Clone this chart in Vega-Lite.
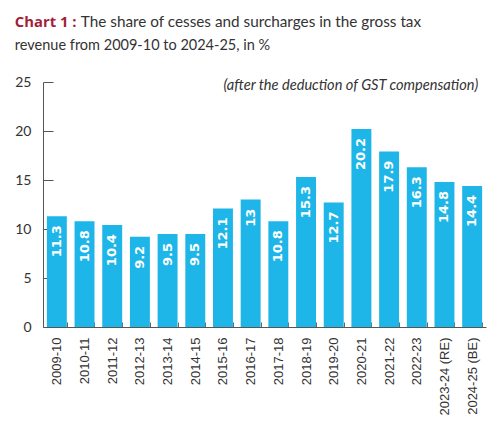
{
  "$schema": "https://vega.github.io/schema/vega-lite/v6.json",
  "width": 443,
  "height": 245,
  "autosize": {"type": "none"},
  "padding": {"left": 43, "top": 82, "right": 14, "bottom": 99},
  "background": "white",
  "config": {"view": {"stroke": null}},
  "data": {
    "values": [
      {"year": "2009-10", "share": 11.3, "label": "11.3"},
      {"year": "2010-11", "share": 10.8, "label": "10.8"},
      {"year": "2011-12", "share": 10.4, "label": "10.4"},
      {"year": "2012-13", "share": 9.2, "label": "9.2"},
      {"year": "2013-14", "share": 9.5, "label": "9.5"},
      {"year": "2014-15", "share": 9.5, "label": "9.5"},
      {"year": "2015-16", "share": 12.1, "label": "12.1"},
      {"year": "2016-17", "share": 13, "label": "13"},
      {"year": "2017-18", "share": 10.8, "label": "10.8"},
      {"year": "2018-19", "share": 15.3, "label": "15.3"},
      {"year": "2019-20", "share": 12.7, "label": "12.7"},
      {"year": "2020-21", "share": 20.2, "label": "20.2"},
      {"year": "2021-22", "share": 17.9, "label": "17.9"},
      {"year": "2022-23", "share": 16.3, "label": "16.3"},
      {"year": "2023-24 (RE)", "share": 14.8, "label": "14.8"},
      {"year": "2024-25 (BE)", "share": 14.4, "label": "14.4"}
    ]
  },
  "layer": [
    {
      "mark": {"type": "bar", "color": "#1eb5e8"},
      "encoding": {
        "x": {
          "field": "year",
          "type": "nominal",
          "sort": null,
          "scale": {"paddingInner": 0.28, "paddingOuter": 0.14},
          "axis": {
            "title": null,
            "labelAngle": -90,
            "labelAlign": "right",
            "labelBaseline": "middle",
            "labelFont": "Liberation Sans",
            "labelFontSize": 13,
            "labelColor": "#333333",
            "labelPadding": 15,
            "tickBand": "extent",
            "tickSize": -5,
            "tickColor": "#666666",
            "domainColor": "#555555"
          }
        },
        "y": {
          "field": "share",
          "type": "quantitative",
          "scale": {"domain": [0, 25], "nice": false},
          "axis": {
            "title": null,
            "values": [0, 5, 10, 15, 20, 25],
            "grid": false,
            "tickSize": -10,
            "tickColor": "#555555",
            "domainColor": "#555555",
            "labelFont": "Lato",
            "labelFontSize": 14,
            "labelColor": "#333333",
            "labelPadding": 22
          }
        }
      }
    },
    {
      "mark": {"type": "text", "angle": -90, "align": "right", "baseline": "middle", "dx": -9, "font": "DejaVu Sans", "fontWeight": "bold", "fontSize": 13, "color": "white"},
      "encoding": {
        "x": {"field": "year", "type": "nominal", "sort": null},
        "y": {"field": "share", "type": "quantitative"},
        "text": {"field": "label"}
      }
    },
    {
      "data": {"values": [{"note": "(after the deduction of GST compensation)"}]},
      "mark": {"type": "text", "align": "right", "baseline": "middle", "dx": 6, "dy": 4, "font": "Lato", "fontStyle": "italic", "fontSize": 14.6, "color": "#333333"},
      "encoding": {
        "x": {"datum": "2024-25 (BE)"},
        "y": {"datum": 25},
        "text": {"field": "note"}
      }
    },
    {
      "data": {"values": [{"note": "Chart 1 :"}]},
      "mark": {"type": "text", "align": "left", "baseline": "alphabetic", "dx": -42, "dy": -55, "font": "Open Sans", "fontWeight": "bold", "fontSize": 14.8, "color": "#a31f3a"},
      "encoding": {
        "x": {"datum": "2009-10"},
        "y": {"datum": 25},
        "text": {"field": "note"}
      }
    },
    {
      "data": {"values": [{"note": "The share of cesses and surcharges in the gross tax"}]},
      "mark": {"type": "text", "align": "left", "baseline": "alphabetic", "dx": 24, "dy": -55, "font": "Lato", "fontSize": 15.3, "color": "#333333"},
      "encoding": {
        "x": {"datum": "2009-10"},
        "y": {"datum": 25},
        "text": {"field": "note"}
      }
    },
    {
      "data": {"values": [{"note": "revenue from 2009-10 to 2024-25, in %"}]},
      "mark": {"type": "text", "align": "left", "baseline": "alphabetic", "dx": -42, "dy": -32, "font": "Lato", "fontSize": 14.5, "color": "#333333"},
      "encoding": {
        "x": {"datum": "2009-10"},
        "y": {"datum": 25},
        "text": {"field": "note"}
      }
    }
  ]
}
